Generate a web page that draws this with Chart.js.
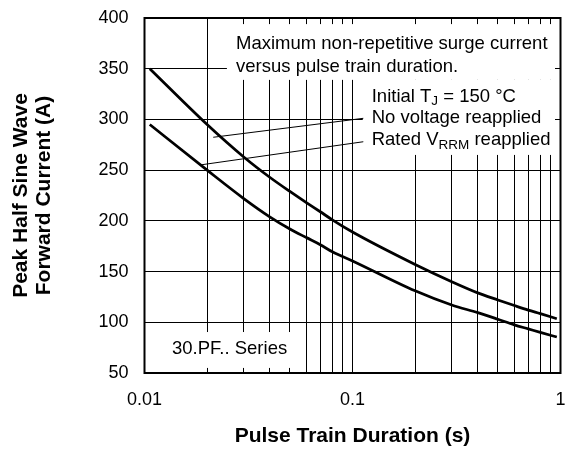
<!DOCTYPE html>
<html>
<head>
<meta charset="utf-8">
<script src="https://cdn.jsdelivr.net/npm/chart.js@4.4.1/dist/chart.umd.min.js"></script>
<style>
  body { margin: 0; background: #fff; }
  canvas { display: block; }
</style>
</head>
<body>
<canvas id="myChart" width="567" height="449"></canvas>
<script>
// values
const durations = [0.0106, 0.02, 0.03, 0.04, 0.05, 0.06, 0.07, 0.08, 0.1, 0.2, 0.3, 0.4, 0.5, 0.6, 0.7, 0.8, 0.96];
const noVoltage = [350, 295, 263, 243, 229, 218, 209, 201, 189, 157, 140, 129, 122, 116.5, 112, 108.5, 103.5];
const ratedVrrm = [295, 250, 222, 204, 192, 183.5, 176.5, 169.5, 160.5, 131, 117, 109.5, 103, 97.5, 93.5, 90, 85.5];

const xGridValues = [0.01, 0.02, 0.03, 0.04, 0.05, 0.06, 0.07, 0.08, 0.09,
                     0.1, 0.2, 0.3, 0.4, 0.5, 0.6, 0.7, 0.8, 0.9, 1];
const xTickLabels = { 0.01: '0.01', 0.1: '0.1', 1: '1' };
const yMin = 50, yMax = 400, yStep = 50;

const FONT = '"Liberation Sans", Arial, Helvetica, sans-serif';
Chart.defaults.font.family = FONT;
Chart.defaults.color = '#000';

function toPoints(xs, ys) {
  return xs.map((v, i) => ({ x: v, y: ys[i] }));
}

// draws text pieces, some of them as subscripts
function drawRuns(ctx, runs, x0, yc) {
  let cx = x0;
  runs.forEach(r => {
    ctx.font = r.sub ? '13.5px ' + FONT : '18.5px ' + FONT;
    ctx.fillText(r.t, cx, yc + (r.sub ? 5 : 0));
    cx += ctx.measureText(r.t).width;
  });
}

const notes = {
  id: 'notes',
  beforeDatasetsDraw(chart) {
    const { ctx, scales: { x, y } } = chart;
    const px = v => x.getPixelForValue(v);
    const py = v => y.getPixelForValue(v);
    ctx.save();
    // white boxes behind the texts
    ctx.fillStyle = '#fff';
    ctx.fillRect(px(0.0249), py(394), px(0.941) - px(0.0249), py(339) - py(394));
    ctx.fillRect(px(0.112), py(339), px(0.941) - px(0.112), py(265) - py(339));
    ctx.fillRect(chart.chartArea.left + 1, py(90.4), px(0.056) - chart.chartArea.left - 1, py(55) - py(90.4));

    // leader lines
    ctx.strokeStyle = '#000';
    ctx.lineWidth = 1;
    ctx.beginPath();
    ctx.moveTo(px(0.0214), py(282.4));
    ctx.lineTo(px(0.1127), py(301.1));
    ctx.moveTo(px(0.0185), py(255.1));
    ctx.lineTo(px(0.1127), py(278));
    ctx.stroke();

    ctx.fillStyle = '#000';
    ctx.textBaseline = 'middle';
    ctx.textAlign = 'left';
    ctx.font = '18.5px ' + FONT;
    ctx.fillText('Maximum non-repetitive surge current', px(0.02754), py(374.4));
    ctx.fillText('versus pulse train duration.', px(0.02754), py(351.7));
    drawRuns(ctx, [{ t: 'Initial T' }, { t: 'J', sub: true }, { t: ' = 150 °C' }], px(0.1237), py(322.4));
    drawRuns(ctx, [{ t: 'No voltage reapplied' }], px(0.1237), py(301.1));
    drawRuns(ctx, [{ t: 'Rated V' }, { t: 'RRM', sub: true }, { t: ' reapplied' }], px(0.1237), py(279.7));
    ctx.font = '18.5px ' + FONT;
    ctx.fillText('30.PF.. Series', px(0.01356), py(73.7));
    ctx.restore();
  },
  afterDraw(chart) {
    const { ctx, chartArea: a } = chart;
    ctx.save();
    ctx.strokeStyle = '#000';
    ctx.lineWidth = 2;
    ctx.strokeRect(a.left, a.top, a.right - a.left, a.bottom - a.top);
    ctx.restore();
  }
};

const ctx = document.getElementById('myChart');
const myChart = new Chart(ctx, {
  type: 'scatter',
  data: {
    datasets: [{
      label: 'No voltage reapplied',
      data: toPoints(durations, noVoltage),
      showLine: true,
      borderColor: '#000',
      borderWidth: 2.75,
      pointRadius: 0,
      cubicInterpolationMode: 'monotone'
    }, {
      label: 'Rated VRRM reapplied',
      data: toPoints(durations, ratedVrrm),
      showLine: true,
      borderColor: '#000',
      borderWidth: 2.75,
      pointRadius: 0,
      cubicInterpolationMode: 'monotone'
    }]
  },
  options: {
    responsive: false,
    animation: false,
    layout: { padding: { left: 0, right: 6.5, top: 18, bottom: 0 } },
    scales: {
      x: {
        type: 'logarithmic',
        min: 0.01,
        max: 1,
        afterBuildTicks: scale => { scale.ticks = xGridValues.map(v => ({ value: v })); },
        afterFit: scale => {
          scale.height = 76;
          scale.paddingLeft = 0;
          scale.paddingRight = 0;
        },
        grid: { color: '#000', lineWidth: 1, drawTicks: false },
        border: { display: false },
        ticks: {
          autoSkip: false,
          maxRotation: 0,
          padding: 16,
          font: { size: 18 },
          callback: v => xTickLabels[v] || ''
        },
        title: {
          display: true,
          text: 'Pulse Train Duration (s)',
          font: { size: 21, weight: 'bold', lineHeight: 1.1 },
          padding: { top: 0, bottom: 1 }
        }
      },
      y: {
        min: yMin,
        max: yMax,
        afterFit: scale => {
          scale.width = 144.5;
          scale.paddingTop = 0;
          scale.paddingBottom = 0;
        },
        grid: { color: '#000', lineWidth: 1, drawTicks: false },
        border: { display: false },
        ticks: { stepSize: yStep, padding: 16, font: { size: 18 } },
        title: {
          display: true,
          text: ['Peak Half Sine Wave', 'Forward Current (A)'],
          font: { size: 21, weight: 'bold', lineHeight: 1.1 },
          padding: { top: 9.5, bottom: 0 }
        }
      }
    },
    plugins: {
      legend: { display: false },
      tooltip: { enabled: false }
    }
  },
  plugins: [notes]
});
</script>
</body>
</html>
